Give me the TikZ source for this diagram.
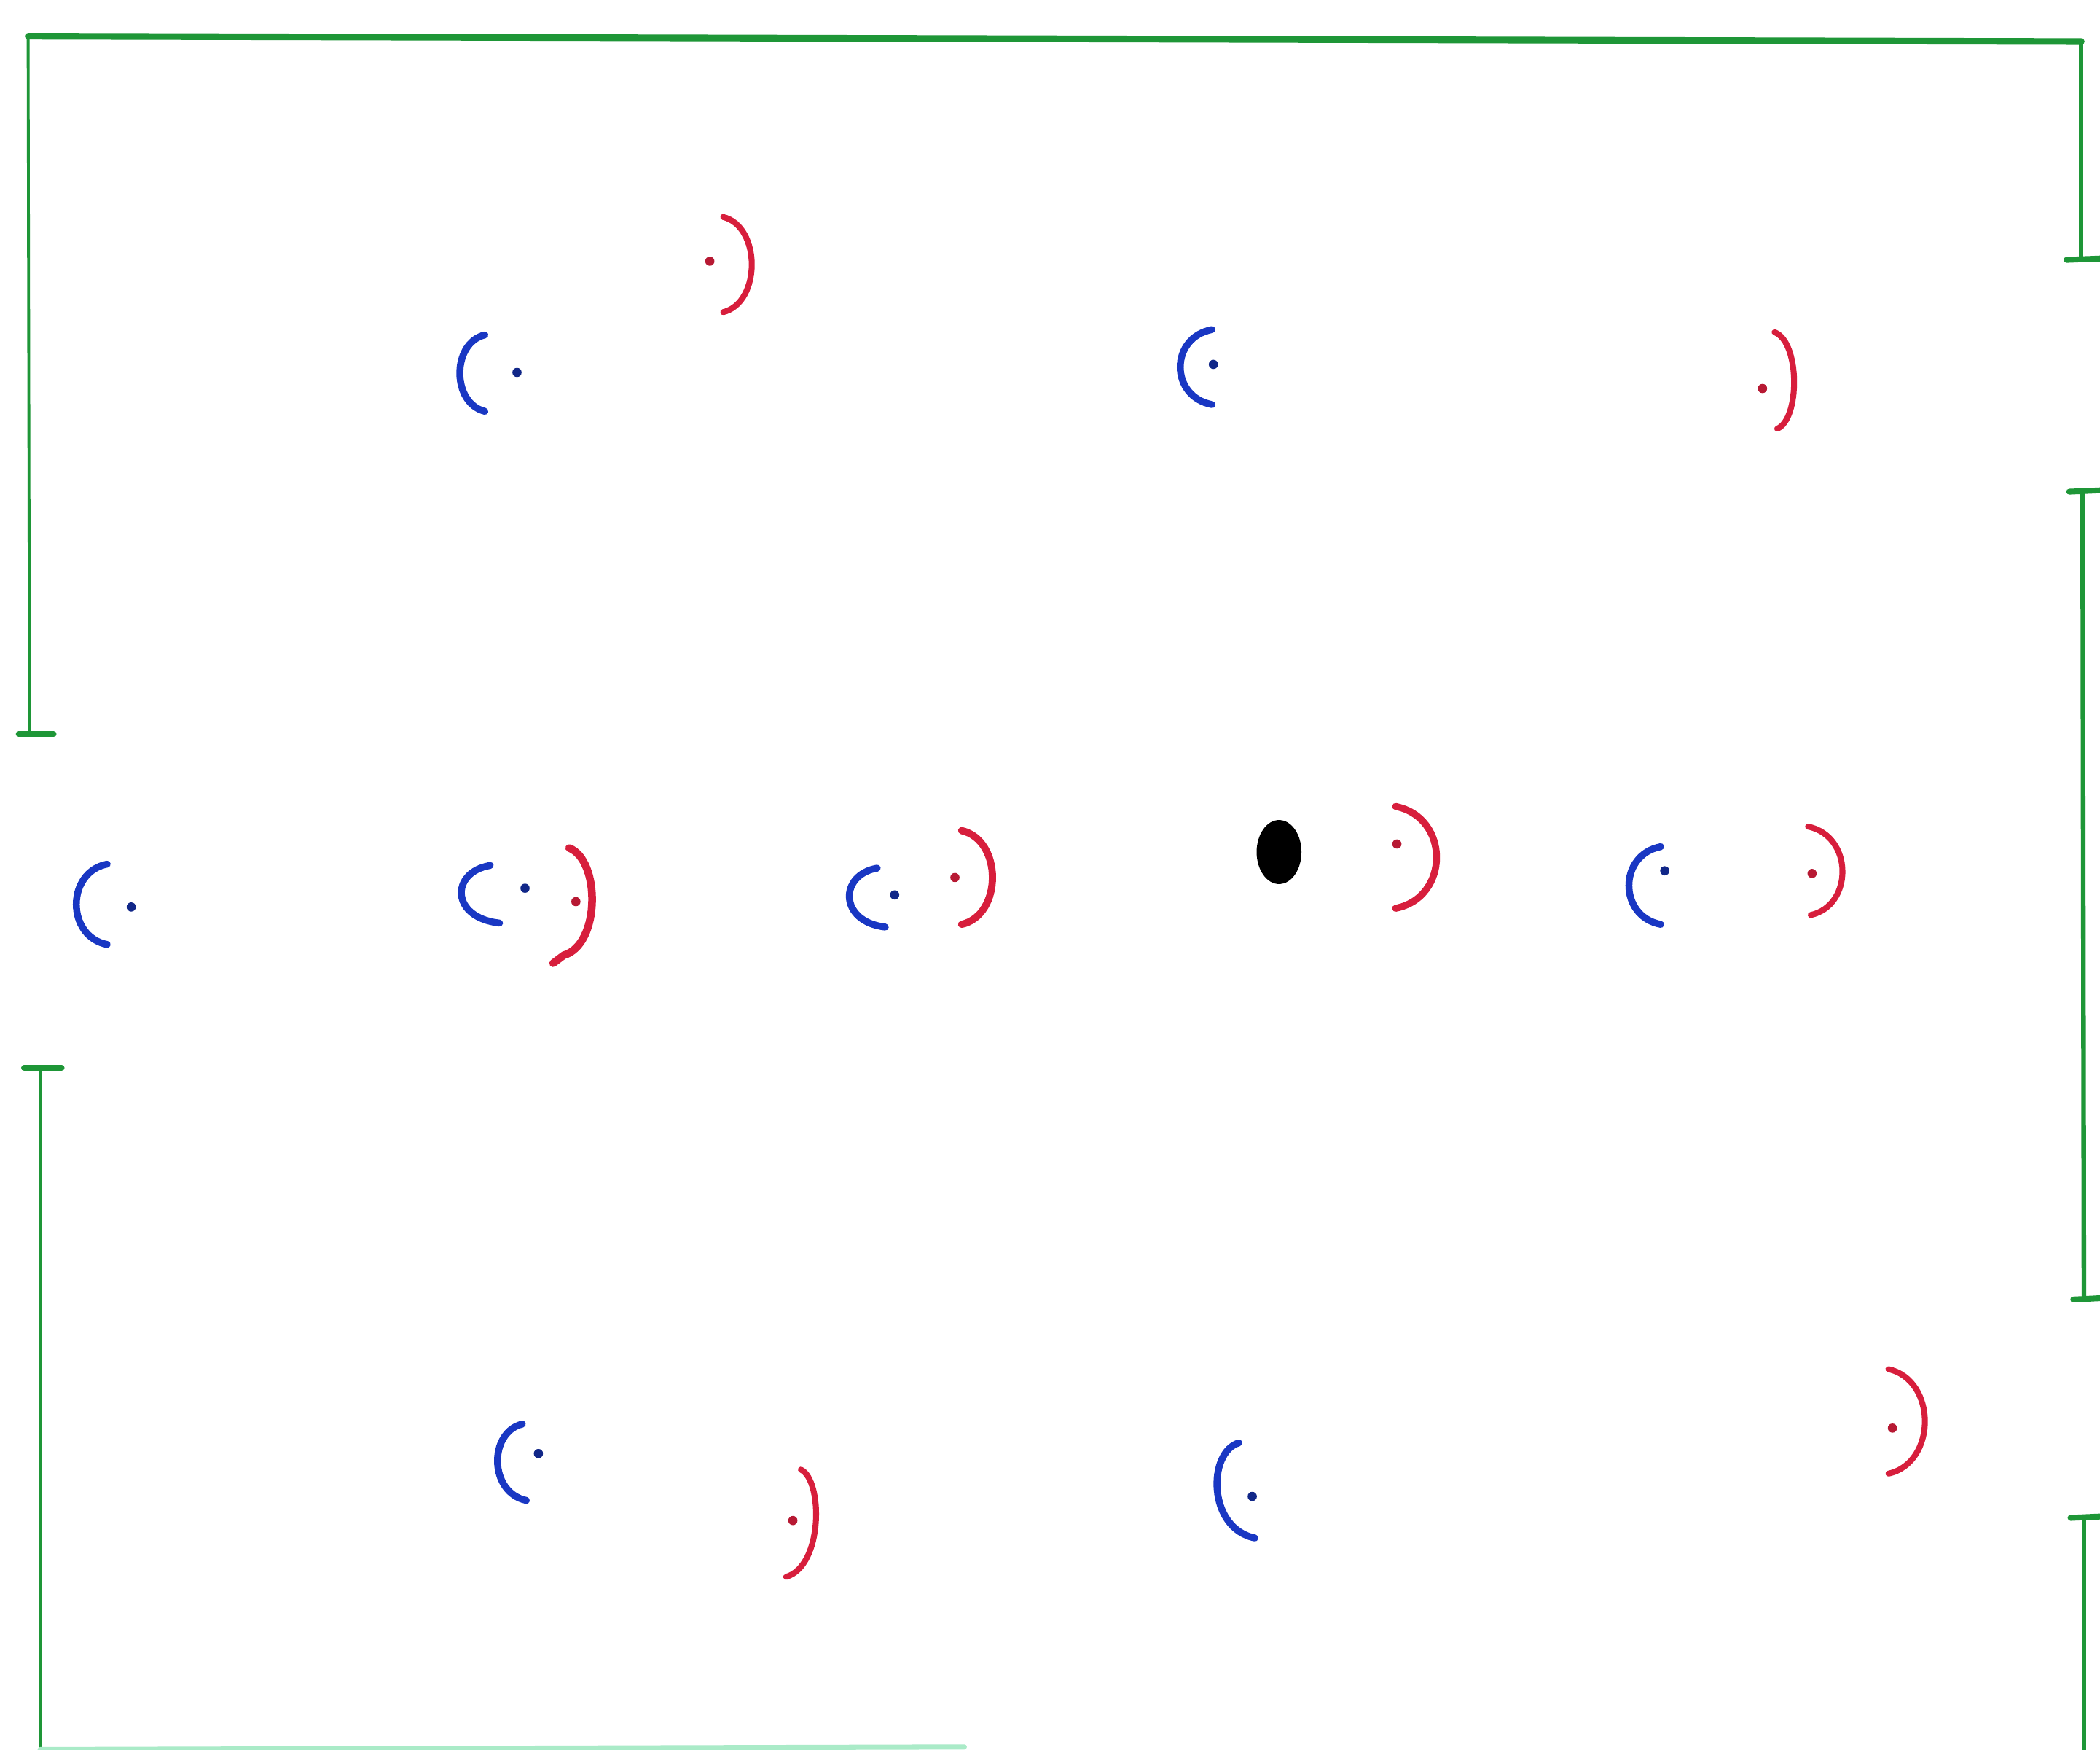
\documentclass[tikz,border=0pt]{standalone}
\usetikzlibrary{shapes.geometric}
\definecolor{pitch}{RGB}{30,150,55}
\definecolor{pitchlight}{RGB}{170,235,200}
\definecolor{teamblue}{RGB}{25,55,195}
\definecolor{teamred}{RGB}{215,30,60}
\begin{document}
\begin{tikzpicture}[x=0.01838cm,y=-0.01838cm,
  line cap=round, line join=round,
  fieldline/.style={draw=pitch,line width=1.5pt},
  fieldthick/.style={draw=pitch,line width=2.6pt},
  postline/.style={draw=pitch,line width=2.3pt},
  bluearc/.style={draw=teamblue,line width=2.7pt},
  redarc/.style={draw=teamred,line width=2.3pt},
  bdot/.style={circle,fill=teamblue!70!black,inner sep=0pt,minimum size=3.6pt},
  rdot/.style={circle,fill=teamred!85!black,inner sep=0pt,minimum size=3.6pt},
  ballstyle/.style={ellipse,fill=black,inner sep=0pt,minimum width=17.5pt,minimum height=25pt}]
\useasboundingbox (0,0) rectangle (1568,1306);
\fill[white] (0,0) rectangle (1568,1306);

% ---------- pitch boundary ----------
\coordinate (tl) at (21,27);
\coordinate (tr) at (1554,31);
\coordinate (lgu) at (22,548);
\coordinate (lgl) at (30,797);
\coordinate (lb) at (30,1306);
\coordinate (rgu) at (1554,193);
\coordinate (rm1) at (1555,367);
\coordinate (rm2) at (1556,970);
\coordinate (rgl) at (1556,1133);
\coordinate (rb) at (1556,1306);
\draw[fieldthick] (tl) -- (tr);
\draw[fieldline,line width=1.1pt] (tl) -- (lgu);
\draw[fieldline,line width=1.7pt] (tr) -- (rgu);
\draw[fieldline,line width=1.8pt] (rm1) -- (rm2);
\draw[fieldline,line width=1.9pt] (rgl) -- (rb);
\draw[fieldline] (lgl) -- (lb);
% goal post ticks
\draw[postline] (14,548) -- (40,548);
\draw[postline] (18,797) -- (46,797);
\draw[postline] (1543,194) -- (1568,193);
\draw[postline] (1545,367) -- (1568,366);
\draw[postline] (1548,970) -- (1568,969);
\draw[postline] (1546,1133) -- (1568,1132);
% faint bottom line
\draw[draw=pitchlight,line width=2pt] (lb) -- (720,1304);

% ---------- blue players ----------
\draw[bluearc] (362,250) .. controls (337.1,256) and (337.1,301) .. (362,307);
\node[bdot] (b1) at (386,278) {};
\draw[bluearc] (905,246) .. controls (873.3,252) and (873.3,296) .. (905,302);
\node[bdot] (b2) at (906,272) {};
\draw[bluearc] (80,645) .. controls (49.3,651) and (49.3,699) .. (80,705);
\node[bdot] (b3) at (98,677) {};
\draw[bluearc] (366,646) .. controls (336.2,651) and (336.2,685) .. (373,689);
\node[bdot] (b4) at (392,663) {};
\draw[bluearc] (655,648) .. controls (626.3,653) and (626.3,688) .. (661,692);
\node[bdot] (b5) at (668,668) {};
\draw[bluearc] (1240,632) .. controls (1208.3,638) and (1208.3,684) .. (1240,690);
\node[bdot] (b6) at (1243,650) {};
\draw[bluearc] (390,1063) .. controls (364.8,1069) and (364.8,1114) .. (393,1120);
\node[bdot] (b7) at (402,1085) {};
\draw[bluearc] (925,1077) .. controls (901.5,1084) and (901.5,1141) .. (937,1148);
\node[bdot] (b8) at (935,1117) {};

% ---------- red players ----------
\draw[redarc] (540,162) .. controls (568.4,169) and (568.4,226) .. (540,233);
\node[rdot] (r1) at (530,195) {};
\draw[redarc] (1325,248) .. controls (1344.1,255) and (1344.1,313) .. (1327,320);
\node[rdot] (r2) at (1316,290) {};
\draw[redarc,line width=3pt] (425,633) .. controls (448.4,642) and (448.4,705) .. (421,713) -- (413,719);
\node[rdot] (r3) at (430,673) {};
\draw[redarc,line width=2.8pt] (718,620) .. controls (748.7,627) and (748.7,683) .. (718,690);
\node[rdot] (r4) at (713,655) {};
\draw[redarc,line width=2.7pt] (1042,602) .. controls (1082.8,610) and (1082.8,670) .. (1042,678);
\node[rdot] (r5) at (1043,630) {};
\draw[redarc] (1350,617) .. controls (1383.9,624) and (1383.9,676) .. (1352,683);
\node[rdot] (r6) at (1353,652) {};
\draw[redarc] (598,1097) .. controls (614.6,1105) and (614.6,1169) .. (587,1177);
\node[rdot] (r7) at (592,1135) {};
\draw[redarc] (1410,1022) .. controls (1446.3,1030) and (1446.3,1092) .. (1410,1100);
\node[rdot] (r8) at (1413,1066) {};

% ---------- ball ----------
\node[ballstyle] (ball) at (955,636) {};
\end{tikzpicture}
\end{document}
